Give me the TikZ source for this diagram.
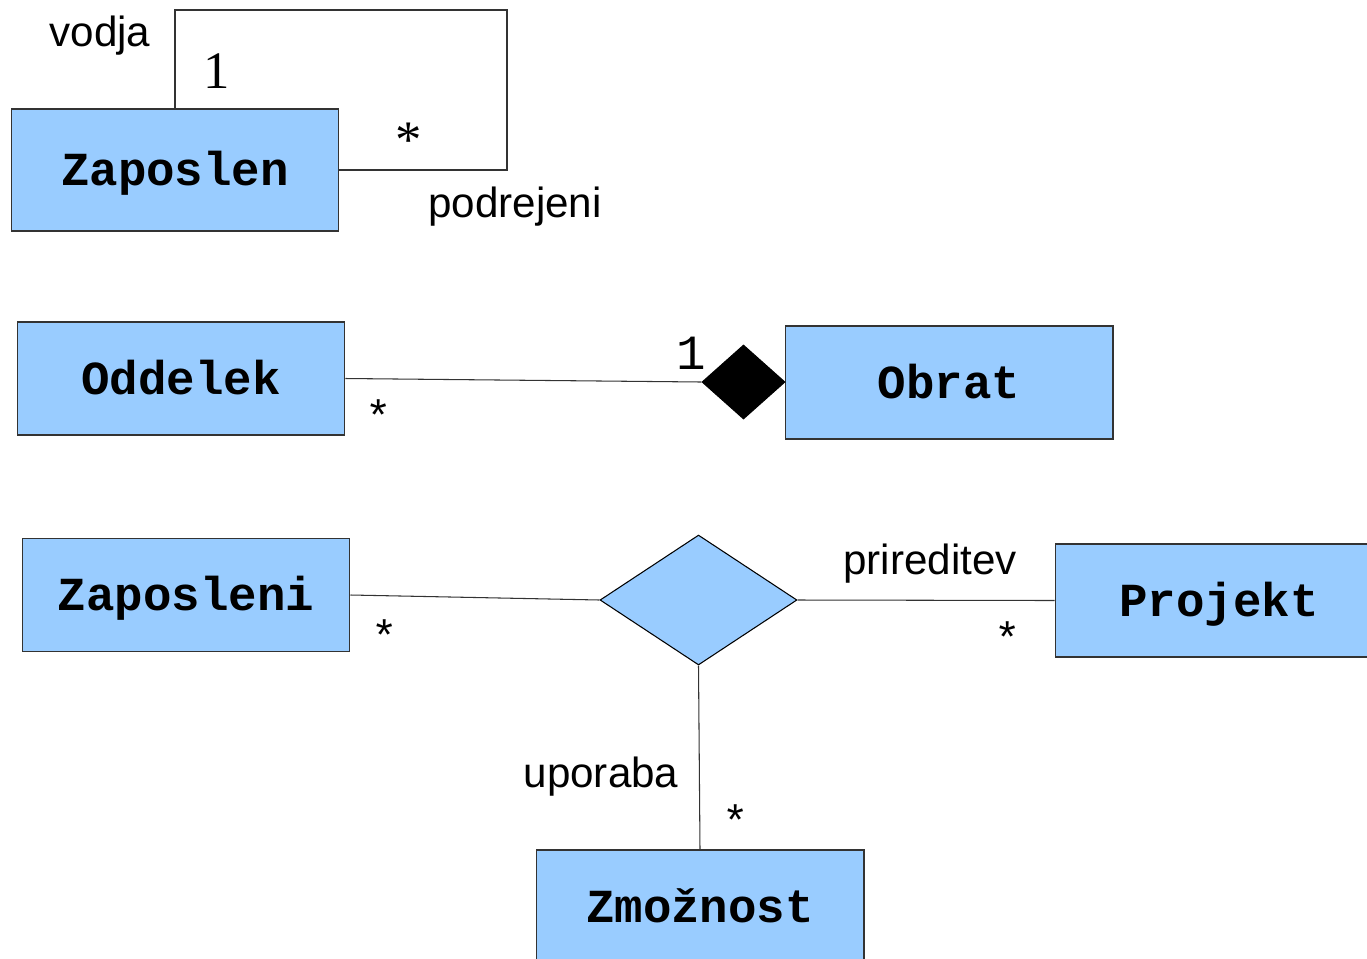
\documentclass[tikz,border=0pt]{standalone}
\usepackage{fontspec}
\setmainfont{Liberation Sans}
\newfontfamily\umlmono{Liberation Mono}
\newfontfamily\umlserif{Liberation Serif}
\usetikzlibrary{shapes}
\definecolor{uml_blue}{RGB}{153, 204, 255}
\definecolor{uml_line}{RGB}{51, 51, 51}
\tikzstyle{cls}=[rectangle,fill=uml_blue,draw=uml_line,line width=0.6pt,
  inner sep=0pt,minimum width=6.56cm,minimum height=2.26cm,
  text height=18pt,text depth=0pt,
  font=\umlmono\bfseries\fontsize{27}{31}\selectfont]
\tikzstyle{rel}=[diamond,fill=uml_blue,draw=black,line width=0.6pt,
  inner sep=0pt,minimum width=3.94cm,minimum height=2.6cm]
\tikzstyle{comp}=[diamond,fill=black,draw=black,
  inner sep=0pt,minimum width=1.66cm,minimum height=1.48cm]
\tikzstyle{lbl}=[inner sep=0pt,font=\fontsize{24}{28}\selectfont]
\tikzstyle{mult}=[inner sep=0pt,font=\umlmono\fontsize{25}{29}\selectfont]
\tikzstyle{smult}=[inner sep=0pt,font=\umlserif\fontsize{30}{34}\selectfont]

\begin{document}
\begin{tikzpicture}[x=0.02cm,y=-0.02cm,line width=0.6pt,draw=uml_line]
        \useasboundingbox (0,0) rectangle (1367,958);
        % self association
        \node [style=cls,minimum height=2.44cm] (zap) at (175,170) {Zaposlen};
        \coordinate (loop) at (507,10);
        \draw (zap.north) |- (loop) |- (zap.east);
        \node [style=lbl] (vodja) at (100,36) {vodja};
        \node [style=smult] (m1) at (217,71) {1};
        \node [style=smult] (m2) at (409,140) {*};
        \node [style=lbl] (podr) at (515,207) {podrejeni};
        % composition
        \node [style=cls] (odd) at (181,378.5) {Oddelek};
        \node [style=cls] (obr) at (949,382.5) {Obrat};
        \node [style=comp] (dia) at (743.5,382) {};
        \draw (odd.east) to (dia.west);
        \node [style=mult] (m3) at (379,416) {*};
        \node [style=mult,font=\umlmono\fontsize{28}{32}\selectfont] (m4) at (691,353) {1};
        % ternary association
        \node [style=cls] (zapi) at (186,595) {Zaposleni};
        \node [style=cls] (proj) at (1219,600.5) {Projekt};
        \node [style=cls] (zmo) at (700,906.5) {Zmožnost};
        \node [style=rel] (rel) at (698.5,600) {};
        \draw (zapi.east) to (rel.west);
        \draw (rel.east) to (proj.west);
        \draw (rel.south) to (zmo.north);
        \node [style=mult] (m5) at (385,636) {*};
        \node [style=lbl] (pri) at (930,564) {prireditev};
        \node [style=mult] (m6) at (1008,638) {*};
        \node [style=lbl] (upo) at (601,777) {uporaba};
        \node [style=mult] (m7) at (736,821) {*};
    \end{tikzpicture}
\end{document}
